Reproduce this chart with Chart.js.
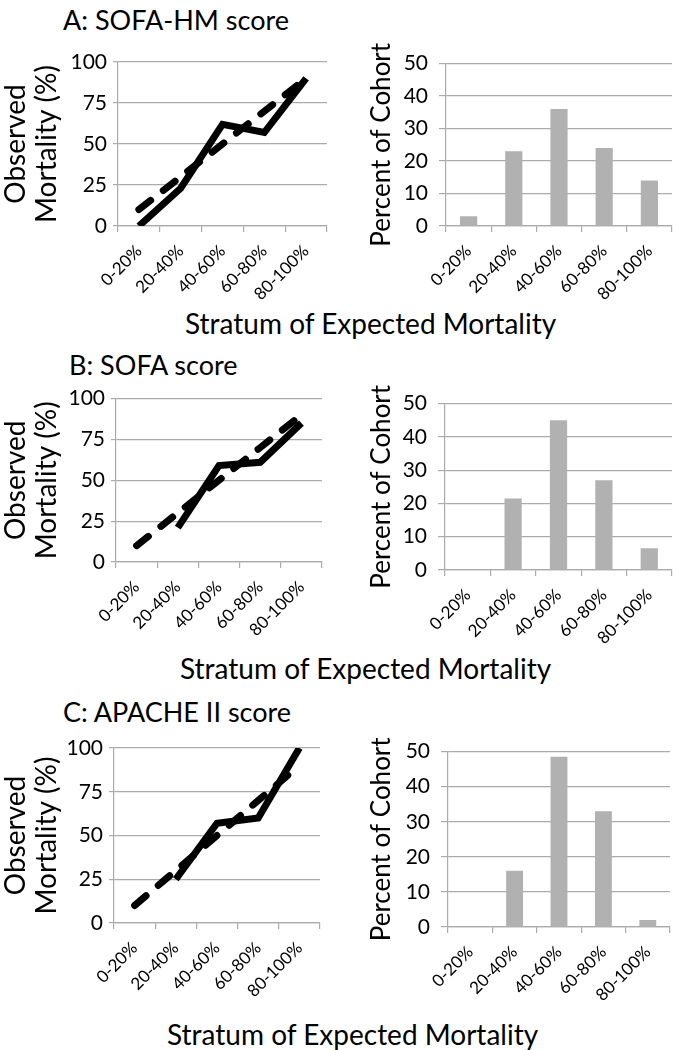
<!DOCTYPE html>
<html>
<head>
<meta charset="utf-8">
<script src="https://cdn.jsdelivr.net/npm/chart.js@4.4.1/dist/chart.umd.min.js"></script>
<style>
  body { margin: 0; background: #fff; width: 677px; height: 1050px; position: relative; overflow: hidden; font-family: Lato, sans-serif; color: #000; }
  canvas { position: absolute; }
  .t { position: absolute; white-space: nowrap; line-height: 1; }
  .title { font-size: 27px; }
  .xlab { font-size: 28px; }
</style>
</head>
<body>
<div class="t title" style="left:63px;top:6px">A: SOFA-HM score</div>
<div class="t title" style="left:69px;top:351px">B: SOFA score</div>
<div class="t title" style="left:63px;top:698px">C: APACHE II score</div>
<div class="t xlab" style="left:185px;top:309px">Stratum of Expected Mortality</div>
<div class="t xlab" style="left:180px;top:654px">Stratum of Expected Mortality</div>
<div class="t xlab" style="left:167px;top:1020px">Stratum of Expected Mortality</div>

<canvas id="lineA"></canvas>
<canvas id="barA"></canvas>
<canvas id="lineB"></canvas>
<canvas id="barB"></canvas>
<canvas id="lineC"></canvas>
<canvas id="barC"></canvas>

<script>
const strata = ['0-20%', '20-40%', '40-60%', '60-80%', '80-100%'];

// A: SOFA-HM
const expectedA = [10, 30, 50, 70, 90];
const observedA = [0, 23, 62, 57, 90];
const cohortA = [3, 23, 36, 24, 14];
// B: SOFA
const expectedB = [10, 30, 50, 70, 90];
const observedB = [null, 21, 59, 61, 85];
const cohortB = [0, 21.5, 45, 27, 6.5];
// C: APACHE II
const expectedC = [10, 30, 50, 70, 90];
const observedC = [null, 25, 57, 60, 100];
const cohortC = [0, 16, 48.5, 33, 2];

const FONT = 'Lato';
const GRID = '#ababab';

// box = canvas rect, plot = wanted plot area (page coords)
function place(id, box) {
    const c = document.getElementById(id);
    c.width = box.r - box.l;
    c.height = box.b - box.t;
    c.style.left = box.l + 'px';
    c.style.top = box.t + 'px';
    return c;
}

function scales(box, plot, yMax, yStep, yTitle, yTitleSize, yTitlePad, tickPad) {
    return {
        x: {
            offset: true,
            grid: { offset: true, drawOnChartArea: false, color: GRID, tickLength: 6, lineWidth: 1.2 },
            border: { color: GRID, width: 1.2 },
            ticks: { color: '#000', font: { family: FONT, size: 17 }, minRotation: 45, maxRotation: 45, padding: 9 },
            afterFit: s => { s.height = box.b - plot.b; }
        },
        y: {
            min: 0, max: yMax,
            grid: { color: GRID, tickLength: tickPad[0], lineWidth: 1.2 },
            border: { color: GRID, width: 1.2 },
            ticks: { stepSize: yStep, color: '#000', font: { family: FONT, size: 21 }, padding: tickPad[1] },
            title: { display: true, text: yTitle, color: '#000', font: { family: FONT, size: yTitleSize, lineHeight: 1.1 }, padding: { top: yTitlePad, bottom: 0 } },
            afterFit: s => { s.width = plot.l - box.l; }
        }
    };
}

function lineChart(id, box, plot, observed, expected) {
    const c = place(id, box);
    new Chart(c, {
        type: 'line',
        data: {
            labels: strata,
            datasets: [
                { label: 'Observed', data: observed, borderColor: '#000', borderWidth: 7, pointRadius: 0, tension: 0, spanGaps: false },
                { label: 'Expected', data: expected, borderColor: '#000', borderWidth: 7, pointRadius: 0, tension: 0,
                  borderDash: [15, 16], borderCapStyle: 'round' }
            ]
        },
        options: {
            responsive: false, animation: false,
            layout: { padding: { left: 0, top: plot.t - box.t, right: box.r - plot.r, bottom: 0 } },
            plugins: { legend: { display: false }, tooltip: { enabled: false } },
            scales: scales(box, plot, 100, 25, ['Observed', 'Mortality (%)'], 28, 1, [5, 6])
        }
    });
}

function barChart(id, box, plot, cohort) {
    const c = place(id, box);
    new Chart(c, {
        type: 'bar',
        data: {
            labels: strata,
            datasets: [
                { label: 'Percent of Cohort', data: cohort, backgroundColor: '#b1b1b1', barPercentage: 0.38, categoryPercentage: 1 }
            ]
        },
        options: {
            responsive: false, animation: false,
            layout: { padding: { left: 0, top: plot.t - box.t, right: box.r - plot.r, bottom: 0 } },
            plugins: { legend: { display: false }, tooltip: { enabled: false } },
            scales: scales(box, plot, 50, 10, 'Percent of Cohort', 26, 27, [7, 11])
        }
    });
}

lineChart('lineA', { l: 0, t: 40, r: 340, b: 300 }, { l: 118, t: 62, r: 327, b: 226 }, observedA, expectedA);
barChart('barA', { l: 340, t: 40, r: 677, b: 300 }, { l: 446, t: 62, r: 672, b: 226 }, cohortA);
lineChart('lineB', { l: 0, t: 380, r: 340, b: 645 }, { l: 116, t: 398, r: 322, b: 562 }, observedB, expectedB);
barChart('barB', { l: 340, t: 380, r: 677, b: 645 }, { l: 445, t: 398, r: 672, b: 570 }, cohortB);
lineChart('lineC', { l: 0, t: 728, r: 340, b: 1015 }, { l: 114, t: 748, r: 320, b: 923 }, observedC, expectedC);
barChart('barC', { l: 340, t: 728, r: 677, b: 1015 }, { l: 448, t: 748, r: 670, b: 927 }, cohortC);
</script>
</body>
</html>
